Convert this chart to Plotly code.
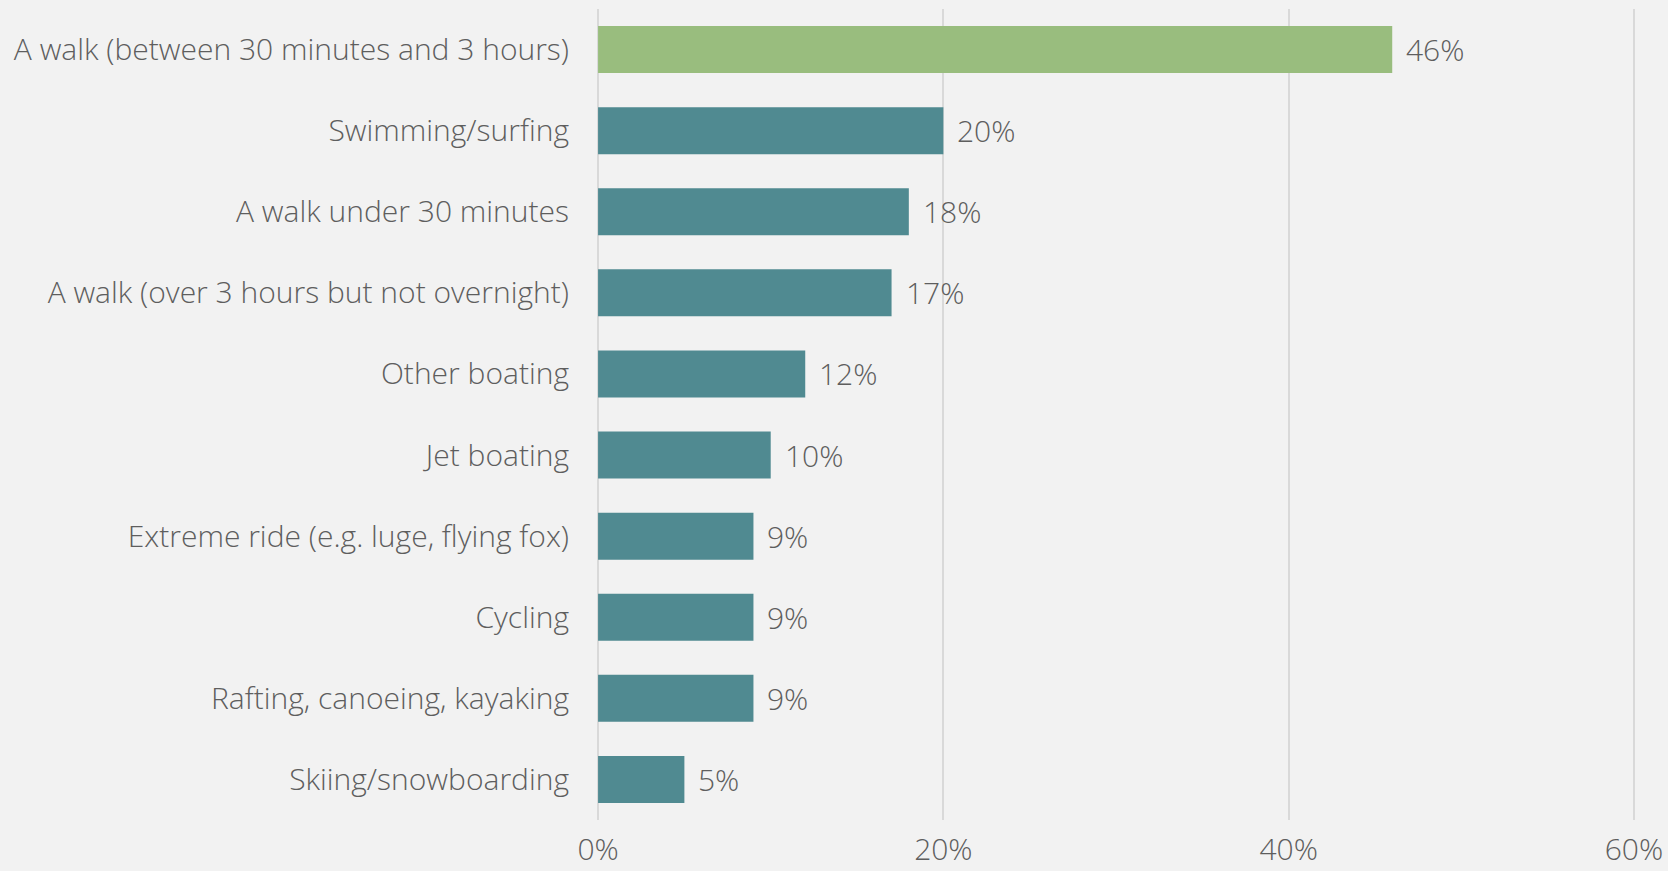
import plotly.graph_objects as go

# Share of respondents taking part in each outdoor activity (%)
activities = [
    "A walk (between 30 minutes and 3 hours)",
    "Swimming/surfing",
    "A walk under 30 minutes",
    "A walk (over 3 hours but not overnight)",
    "Other boating",
    "Jet boating",
    "Extreme ride (e.g. luge, flying fox)",
    "Cycling",
    "Rafting, canoeing, kayaking",
    "Skiing/snowboarding",
]
shares = [46, 20, 18, 17, 12, 10, 9, 9, 9, 5]
x_ticks = [0, 20, 40, 60]
x_tick_labels = ["0%", "20%", "40%", "60%"]

HIGHLIGHT = "#99BD7E"
BASE = "#508A91"
TEXT = "#5E5E5E"
FONT = "Open Sans"
SIZE = 30

colors = [HIGHLIGHT if i == 0 else BASE for i in range(len(activities))]

fig = go.Figure(
    go.Bar(
        x=shares,
        y=activities,
        orientation="h",
        marker=dict(color=colors, line=dict(width=0)),
        width=0.58,
        hoverinfo="skip",
    )
)

# value labels to the right of each bar
for act, val in zip(activities, shares):
    fig.add_annotation(
        x=val, y=act, text=f"{val}%", showarrow=False,
        xanchor="left", xshift=12, yanchor="middle",
        font=dict(family=FONT, size=SIZE, color=TEXT, weight=300),
    )

fig.update_layout(
    width=1668, height=871,
    margin=dict(l=596, r=32, t=9, b=51),
    paper_bgcolor="#F2F2F2",
    plot_bgcolor="#F2F2F2",
    showlegend=False,
    font=dict(family=FONT, size=SIZE, color=TEXT, weight=300),
)
fig.update_xaxes(
    range=[-0.12, 60.12],
    tickvals=x_ticks,
    ticktext=x_tick_labels,
    showgrid=True, gridcolor="#D9D9D9", gridwidth=2,
    zeroline=False, showline=False,
    ticks="", ticklabelstandoff=9, automargin=False,
    tickfont=dict(family=FONT, size=SIZE, color=TEXT, weight=300),
)
fig.update_yaxes(
    categoryorder="array",
    categoryarray=activities[::-1],
    range=[-0.5, len(activities) - 0.5],
    showgrid=False, zeroline=False, showline=False,
    ticks="", ticklabelstandoff=26, automargin=False,
    tickfont=dict(family=FONT, size=SIZE, color=TEXT, weight=300),
)

fig.write_html("out.html")
